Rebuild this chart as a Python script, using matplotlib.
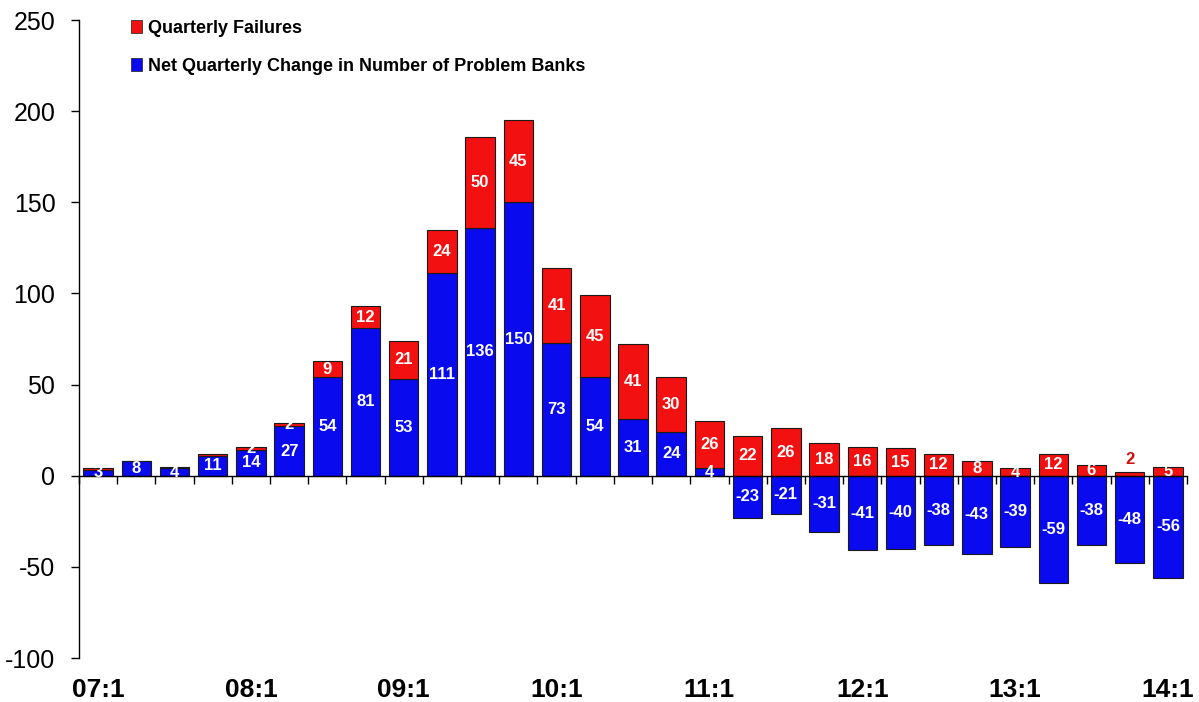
import matplotlib
matplotlib.use("Agg")
import matplotlib.pyplot as plt
import matplotlib.transforms as mtransforms
from matplotlib.patches import Patch

plt.rcParams['font.family'] = ['Liberation Sans', 'DejaVu Sans']

quarters = ["07:1", "07:2", "07:3", "07:4", "08:1", "08:2", "08:3", "08:4",
            "09:1", "09:2", "09:3", "09:4", "10:1", "10:2", "10:3", "10:4",
            "11:1", "11:2", "11:3", "11:4", "12:1", "12:2", "12:3", "12:4",
            "13:1", "13:2", "13:3", "13:4", "14:1"]
net_change = [3, 8, 4, 11, 14, 27, 54, 81, 53, 111, 136, 150, 73, 54, 31, 24,
              4, -23, -21, -31, -41, -40, -38, -43, -39, -59, -38, -48, -56]
failures = [1, 0, 1, 1, 2, 2, 9, 12, 21, 24, 50, 45, 41, 45, 41, 30,
            26, 22, 26, 18, 16, 15, 12, 8, 4, 12, 6, 2, 5]
tick_labels = ["07:1", "08:1", "09:1", "10:1", "11:1", "12:1", "13:1", "14:1"]
y_ticks = [-100, -50, 0, 50, 100, 150, 200, 250]

RED = '#F21010'
BLUE = '#0A0AEE'
EDGE = '#1a1a1a'

fig = plt.figure(figsize=(11.99, 7.02), dpi=100)
ax = fig.add_axes([79/1199, 1-658/702, (1187-79)/1199, (658-20)/702])

x = list(range(len(quarters)))
w = 0.77
bottoms = [n if n > 0 else 0 for n in net_change]
ax.bar(x, net_change, width=w, color=BLUE, edgecolor=EDGE, linewidth=0.8, zorder=2)
ax.bar(x, failures, width=w, bottom=bottoms, color=RED, edgecolor=EDGE, linewidth=0.8, zorder=2)

lab_font = dict(fontsize=12, fontweight='bold', ha='center', va='center', zorder=4)
for i in x:
    n = net_change[i]
    f = failures[i]
    if abs(n) >= 2:
        ax.text(i, n / 2, str(n), color='white', **lab_font)
    if f >= 2:
        if f < 3 and n < 0:
            ax.text(i, f + 7, str(f), color='#D01010', **lab_font)
        else:
            ax.text(i, bottoms[i] + f / 2, str(f), color='white', **lab_font)

ax.set_xlim(-0.5, len(quarters) - 0.5)
ax.set_ylim(-100, 250)
ax.set_yticks(y_ticks)
ax.set_yticklabels([str(v) for v in y_ticks], fontsize=18)
ax.tick_params(axis='y', direction='out', length=6, width=1, pad=11)

ax.spines['top'].set_visible(False)
ax.spines['right'].set_visible(False)
ax.spines['bottom'].set_position(('data', 0))
ax.spines['left'].set_linewidth(1)
ax.spines['bottom'].set_linewidth(1)
ax.set_xticks([i + 0.5 for i in range(-1, len(quarters))])
ax.set_xticklabels([])
ax.tick_params(axis='x', direction='out', length=6, width=1)

trans = mtransforms.blended_transform_factory(ax.transData, ax.transAxes)
for lab in tick_labels:
    ax.text(quarters.index(lab), -0.05, lab, transform=trans, ha='center', va='center',
            fontsize=19, fontweight='bold', clip_on=False)

handles = [Patch(facecolor=RED, edgecolor=EDGE, linewidth=0.5),
           Patch(facecolor=BLUE, edgecolor=EDGE, linewidth=0.5)]
ax.legend(handles, ["Quarterly Failures", "Net Quarterly Change in Number of Problem Banks"],
          loc='upper left', bbox_to_anchor=(131/1199, 1-20/702), bbox_transform=fig.transFigure,
          frameon=False, handlelength=0.6, handleheight=0.7, handletextpad=0.35,
          labelspacing=1.15, borderpad=0, borderaxespad=0,
          prop=dict(weight='bold', size=13))

fig.savefig("out.png", dpi=100)
